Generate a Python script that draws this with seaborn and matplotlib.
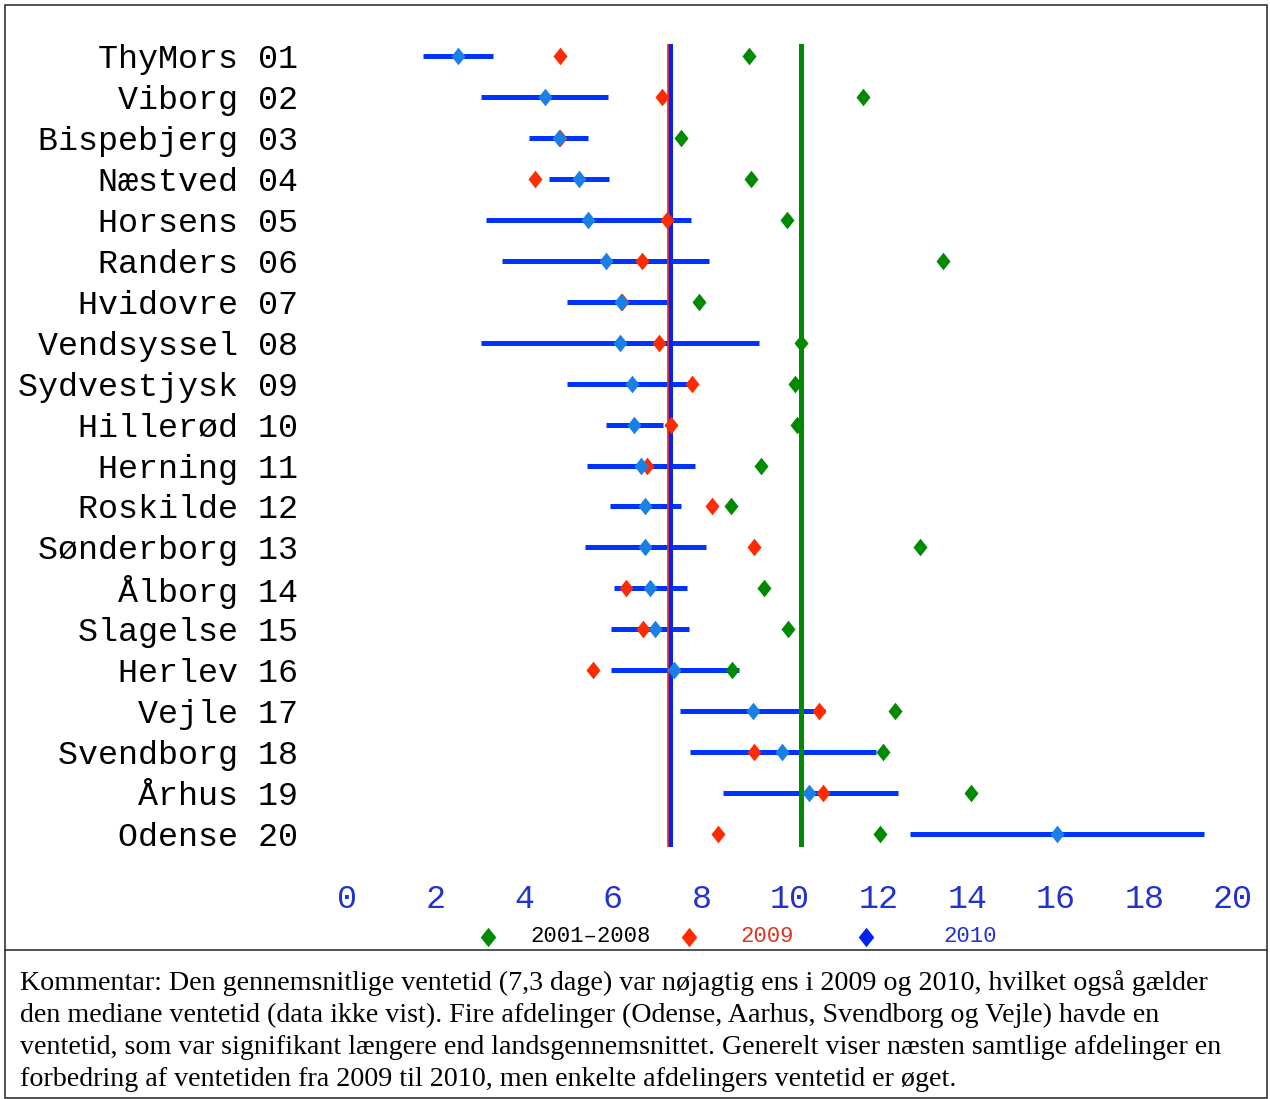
import numpy as np
import pandas as pd
import seaborn as sns
import matplotlib.pyplot as plt
from matplotlib.lines import Line2D
from matplotlib.patches import Rectangle
from matplotlib.path import Path

# waiting time (days) per department
departments = ["ThyMors 01", "Viborg 02", "Bispebjerg 03", "Næstved 04", "Horsens 05",
               "Randers 06", "Hvidovre 07", "Vendsyssel 08", "Sydvestjysk 09", "Hillerød 10",
               "Herning 11", "Roskilde 12", "Sønderborg 13", "Ålborg 14", "Slagelse 15",
               "Herlev 16", "Vejle 17", "Svendborg 18", "Århus 19", "Odense 20"]
avg_2001_2008 = [9.07, 11.65, 7.54, 9.12, 9.93, 13.45, 7.95, 10.25, 10.11, 10.16,
                 9.35, 8.67, 12.93, 9.41, 9.95, 8.69, 12.38, 12.10, 14.08, 12.03]
avg_2009 = [4.80, 7.11, 4.81, 4.24, 7.22, 6.66, 6.21, 7.04, 7.79, 7.31,
            6.77, 8.24, 9.19, 6.30, 6.69, 5.56, 10.66, 9.18, 10.74, 8.37]
avg_2010 = [2.50, 4.47, 4.79, 5.24, 5.44, 5.85, 6.19, 6.16, 6.43, 6.48,
            6.63, 6.73, 6.73, 6.84, 6.95, 7.38, 9.16, 9.82, 10.43, 16.02]
ci_low_2010 = [1.72, 3.02, 4.11, 4.56, 3.14, 3.50, 4.97, 3.02, 4.97, 5.84,
               5.41, 5.94, 5.37, 6.03, 5.96, 5.96, 7.52, 7.74, 8.48, 12.70]
ci_high_2010 = [3.30, 5.89, 5.44, 5.91, 7.77, 8.17, 7.29, 9.30, 7.74, 7.13,
                7.85, 7.54, 8.10, 7.67, 7.72, 8.84, 10.78, 11.94, 12.43, 19.34]
mean_2001_2008 = 10.25
mean_2009 = 7.25
mean_2010 = 7.3
x_ticks = list(range(0, 21, 2))
legend_labels = ["2001\u20132008", "2009", "2010"]

comment_lines = [
    "Kommentar: Den gennemsnitlige ventetid (7,3 dage) var nøjagtig ens i 2009 og 2010, hvilket også gælder",
    "den mediane ventetid (data ikke vist). Fire afdelinger (Odense, Aarhus, Svendborg og Vejle) havde en",
    "ventetid, som var signifikant længere end landsgennemsnittet. Generelt viser næsten samtlige afdelinger en",
    "forbedring af ventetiden fra 2009 til 2010, men enkelte afdelingers ventetid er øget.",
]

df = pd.DataFrame({
    "department": departments,
    "pos": np.arange(len(departments)),
    "avg_2001_2008": avg_2001_2008,
    "avg_2009": avg_2009,
    "avg_2010": avg_2010,
    "lo": ci_low_2010,
    "hi": ci_high_2010,
})

sns.set_style("white")
plt.rcParams['font.family'] = ['Liberation Mono', 'DejaVu Sans Mono']

GREEN = "#008a00"
RED = "#ff2a00"
BLUE_LINE = "#0033ff"
BLUE_PT = "#1a80e6"
TICK_BLUE = "#2233cc"

diamond = Path([(0, 1), (0.8, 0), (0, -1), (-0.8, 0), (0, 1)])

fig = plt.figure(figsize=(12.7, 10.99), dpi=100)
ax = fig.add_axes([347 / 1270, 1 - 847 / 1099, (1233 - 347) / 1270, (847 - 44) / 1099])

# 2010 confidence intervals
ax.hlines(df["pos"], df["lo"], df["hi"], color=BLUE_LINE, lw=3.6, zorder=2)

# national averages
ax.axvline(mean_2001_2008, color=GREEN, lw=3.6, zorder=3)
ax.axvline(mean_2010, color="#0022ff", lw=3.6, zorder=3)
ax.axvline(mean_2009, color=RED, lw=1.2, zorder=3)

sns.scatterplot(data=df, x="avg_2001_2008", y="pos", marker=diamond, color=GREEN,
                s=160, linewidth=0, ax=ax, zorder=4)
sns.scatterplot(data=df, x="avg_2009", y="pos", marker=diamond, color=RED,
                s=160, linewidth=0, ax=ax, zorder=5)
sns.scatterplot(data=df, x="avg_2010", y="pos", marker=diamond, color=BLUE_PT,
                s=160, linewidth=0, ax=ax, zorder=6)

ax.set_xlim(0, 20)
ax.set_ylim(19.32, -0.3)
ax.set_xticks(x_ticks)
ax.set_xticklabels([str(t) for t in x_ticks], color=TICK_BLUE, fontsize=24)
ax.set_yticks(df["pos"])
ax.set_yticklabels(departments, fontsize=24, color="black")
ax.tick_params(axis="x", length=0, pad=27)
ax.tick_params(axis="y", length=0, pad=35)
ax.set_xlabel("")
ax.set_ylabel("")
for s in ax.spines.values():
    s.set_visible(False)

# legend below the axis
leg_y = 1 - 937 / 1099
leg_markers = [(488, GREEN), (689, RED), (866, "#0022ee")]
leg_texts = [(530, "black"), (740, "#dd3322"), (943, TICK_BLUE)]
for (mx, mc), (tx, tc), lab in zip(leg_markers, leg_texts, legend_labels):
    fig.add_artist(Line2D([mx / 1270], [leg_y], marker=diamond, markersize=14,
                          color=mc, markeredgewidth=0, transform=fig.transFigure))
    fig.text(tx / 1270, leg_y, lab, color=tc, fontsize=16, va="center", ha="left")

# frame and separator
fig.add_artist(Rectangle((5 / 1270, 1 / 1099), 1262 / 1270, 1093 / 1099, fill=False,
                         edgecolor="#333333", lw=1.2, transform=fig.transFigure))
fig.add_artist(Line2D([5 / 1270, 1267 / 1270], [1 - 950 / 1099] * 2, color="#333333",
                      lw=1.2, transform=fig.transFigure))

# comment text
for i, line in enumerate(comment_lines):
    fig.text(20 / 1270, 1 - (983 + 32 * i) / 1099, line, family="Liberation Serif",
             fontsize=20.2, va="center", ha="left", color="black")

fig.savefig("out.png", dpi=100)
